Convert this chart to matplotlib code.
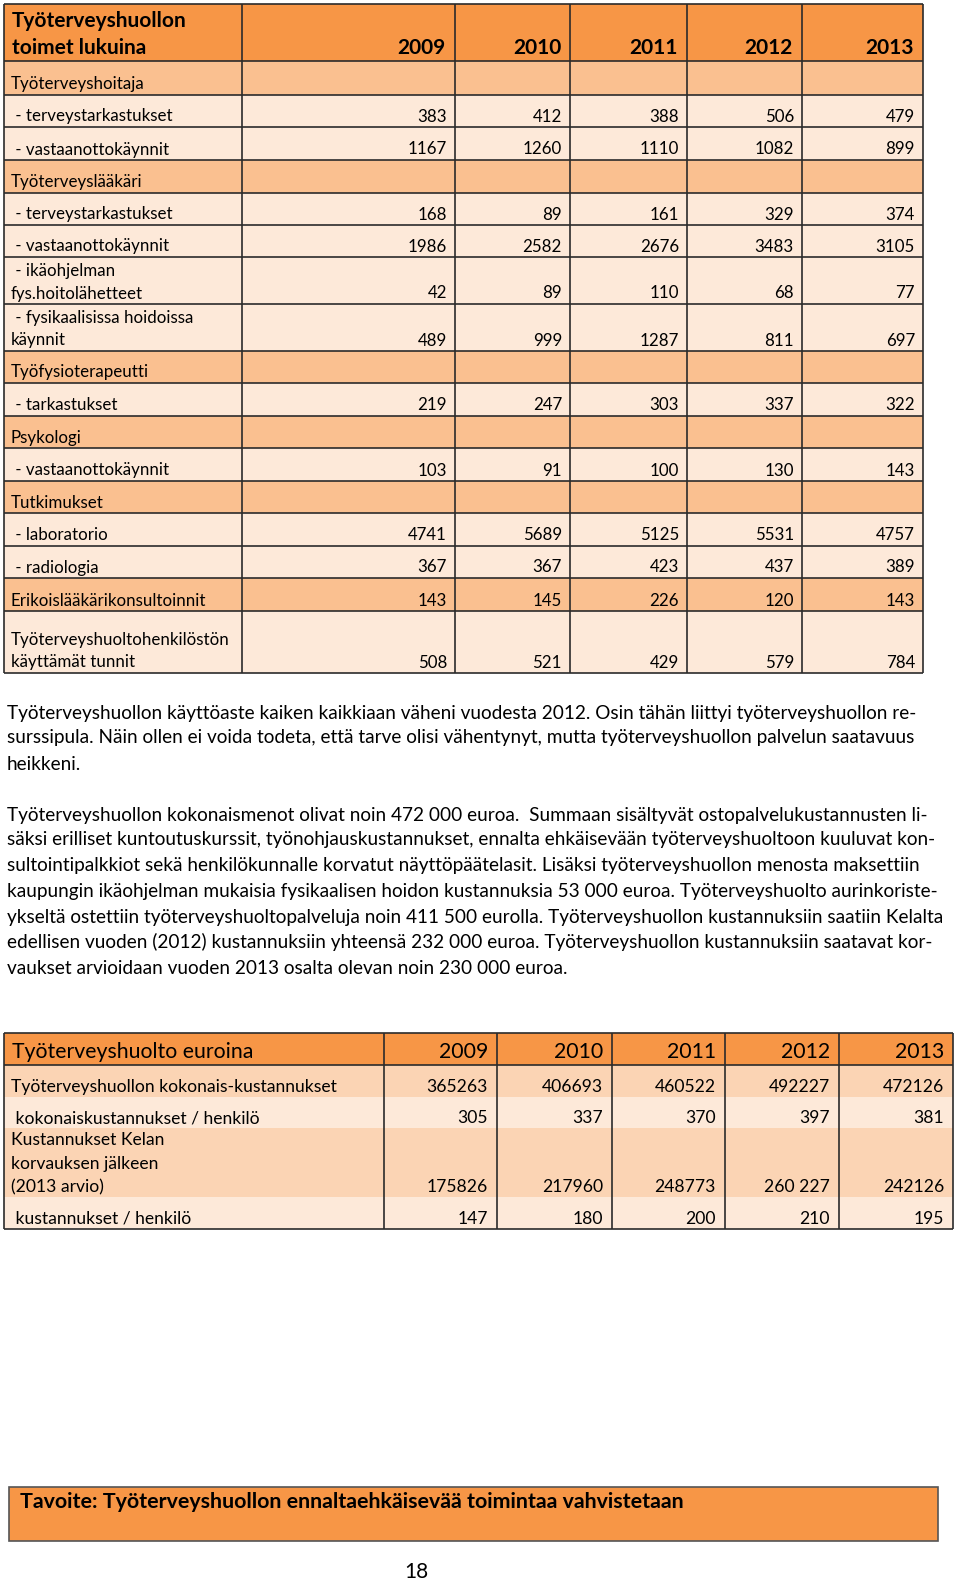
import matplotlib
matplotlib.use("Agg")
import matplotlib.pyplot as plt
from matplotlib import font_manager
from matplotlib.patches import Rectangle

# --- data -------------------------------------------------------------
years = ["2009", "2010", "2011", "2012", "2013"]

t1_title = ["Työterveyshuollon", "toimet lukuina"]
t1_labels = [
    "Työterveyshoitaja",
    " - terveystarkastukset",
    " - vastaanottokäynnit",
    "Työterveyslääkäri",
    " - terveystarkastukset",
    " - vastaanottokäynnit",
    " - ikäohjelman\nfys.hoitolähetteet",
    " - fysikaalisissa hoidoissa\nkäynnit",
    "Työfysioterapeutti",
    " - tarkastukset",
    "Psykologi",
    " - vastaanottokäynnit",
    "Tutkimukset",
    " - laboratorio",
    " - radiologia",
    "Erikoislääkärikonsultoinnit",
    "Työterveyshuoltohenkilöstön\nkäyttämät tunnit",
]
t1_values = [
    None,
    [383, 412, 388, 506, 479],
    [1167, 1260, 1110, 1082, 899],
    None,
    [168, 89, 161, 329, 374],
    [1986, 2582, 2676, 3483, 3105],
    [42, 89, 110, 68, 77],
    [489, 999, 1287, 811, 697],
    None,
    [219, 247, 303, 337, 322],
    None,
    [103, 91, 100, 130, 143],
    None,
    [4741, 5689, 5125, 5531, 4757],
    [367, 367, 423, 437, 389],
    [143, 145, 226, 120, 143],
    [508, 521, 429, 579, 784],
]
# which rows are the darker "group" rows
t1_group = [1, 0, 0, 1, 0, 0, 0, 0, 1, 0, 1, 0, 1, 0, 0, 1, 0]

t2_title = "Työterveyshuolto euroina"
t2_labels = [
    "Työterveyshuollon kokonais-kustannukset",
    " kokonaiskustannukset / henkilö",
    "Kustannukset Kelan\nkorvauksen jälkeen\n(2013 arvio)",
    " kustannukset / henkilö",
]
t2_values = [
    ["365263", "406693", "460522", "492227", "472126"],
    ["305", "337", "370", "397", "381"],
    ["175826", "217960", "248773", "260 227", "242126"],
    ["147", "180", "200", "210", "195"],
]

para1 = [
    "Työterveyshuollon käyttöaste kaiken kaikkiaan väheni vuodesta 2012. Osin tähän liittyi työterveyshuollon re-",
    "surssipula. Näin ollen ei voida todeta, että tarve olisi vähentynyt, mutta työterveyshuollon palvelun saatavuus",
    "heikkeni.",
]
para2 = [
    "Työterveyshuollon kokonaismenot olivat noin 472 000 euroa.  Summaan sisältyvät ostopalvelukustannusten li-",
    "säksi erilliset kuntoutuskurssit, työnohjauskustannukset, ennalta ehkäisevään työterveyshuoltoon kuuluvat kon-",
    "sultointipalkkiot sekä henkilökunnalle korvatut näyttöpäätelasit. Lisäksi työterveyshuollon menosta maksettiin",
    "kaupungin ikäohjelman mukaisia fysikaalisen hoidon kustannuksia 53 000 euroa. Työterveyshuolto aurinkoriste-",
    "ykseltä ostettiin työterveyshuoltopalveluja noin 411 500 eurolla. Työterveyshuollon kustannuksiin saatiin Kelalta",
    "edellisen vuoden (2012) kustannuksiin yhteensä 232 000 euroa. Työterveyshuollon kustannuksiin saatavat kor-",
    "vaukset arvioidaan vuoden 2013 osalta olevan noin 230 000 euroa.",
]
goal = "Tavoite: Työterveyshuollon ennaltaehkäisevää toimintaa vahvistetaan"
page_no = "18"

# --- style ------------------------------------------------------------
ORANGE = "#F79646"
GROUP = "#FAC090"
LIGHT = "#FDE9D9"
MID = "#FBD4B4"
LINE = "#2b2b2b"

names = {f.name for f in font_manager.fontManager.ttflist}
FONT = ["Lato", "DejaVu Sans"]
NARROW = ["Liberation Sans Narrow", "DejaVu Sans"] if "Liberation Sans Narrow" in names else FONT

BODY = 12.2      # table body text
HEAD = 15.0      # bold header of table 1

fig = plt.figure(figsize=(9.6, 15.82), dpi=100)
ax = fig.add_axes([0, 0, 1, 1])
ax.set_xlim(0, 960)
ax.set_ylim(1582, 0)
ax.axis("off")


def txt(x, y, s, size, ha="left", va="baseline", weight="normal", family=FONT):
    return ax.text(x, y, s, fontsize=size, ha=ha, va=va, fontweight=weight,
                   family=family, color="black")


def hline(y, x0, x1, lw=1.2):
    ax.plot([x0, x1], [y, y], color=LINE, lw=lw, solid_capstyle="butt")


def vline(x, y0, y1, lw=1.2):
    ax.plot([x, x], [y0, y1], color=LINE, lw=lw, solid_capstyle="butt")


# --- table 1 ----------------------------------------------------------
t1_y = [4, 61, 95, 127, 160, 193, 225, 257, 304, 351, 383, 416, 448, 481, 513, 546, 578, 611, 673]
t1_x = [4, 242, 455, 570, 687, 802, 923]

ax.add_patch(Rectangle((t1_x[0], t1_y[0]), t1_x[-1] - t1_x[0], t1_y[1] - t1_y[0], color=ORANGE, lw=0))
txt(12, 27, t1_title[0], HEAD, weight="bold")
txt(12, 54, t1_title[1], HEAD, weight="bold")
for j, yr in enumerate(years):
    txt(t1_x[j + 2] - 9, 54, yr, HEAD, ha="right", weight="bold")

for i, (lab, vals) in enumerate(zip(t1_labels, t1_values)):
    top, bot = t1_y[i + 1], t1_y[i + 2]
    ax.add_patch(Rectangle((t1_x[0], top), t1_x[-1] - t1_x[0], bot - top,
                           color=GROUP if t1_group[i] else LIGHT, lw=0))
    lines = lab.split("\n")
    for k, ln in enumerate(lines):
        base = bot - 5.5 - 22.5 * (len(lines) - 1 - k)
        txt(11, base, ln, BODY)
    if vals:
        for j, v in enumerate(vals):
            txt(t1_x[j + 2] - 8, bot - 5.5, str(v), BODY, ha="right")

for y in t1_y:
    hline(y, t1_x[0], t1_x[-1])
for x in t1_x:
    vline(x, t1_y[0], t1_y[-1])

# --- paragraphs -------------------------------------------------------
renderer = fig.canvas.get_renderer()
probe = txt(7, 0, para2[0], 14, family=NARROW)
w = probe.get_window_extent(renderer).width
psize = 14 * 924 / w
probe.remove()

for ln, yc in zip(para1, [713, 738, 764]):
    txt(7, yc, ln, psize, va="center", family=NARROW)
for ln, yc in zip(para2, [815, 840, 865, 891, 917, 942, 968]):
    txt(7, yc, ln, psize, va="center", family=NARROW)

# --- table 2 ----------------------------------------------------------
t2_y = [1033, 1065, 1097, 1128, 1197, 1229]
t2_x = [4, 384, 497, 612, 725, 839, 953]
t2_fill = [MID, LIGHT, MID, LIGHT]

ax.add_patch(Rectangle((t2_x[0], t2_y[0]), t2_x[-1] - t2_x[0], t2_y[1] - t2_y[0], color=ORANGE, lw=0))
txt(12, 1058, t2_title, 15.3)
for j, yr in enumerate(years):
    txt(t2_x[j + 2] - 9, 1058, yr, 15.3, ha="right")

for i, (lab, vals) in enumerate(zip(t2_labels, t2_values)):
    top, bot = t2_y[i + 1], t2_y[i + 2]
    ax.add_patch(Rectangle((t2_x[0], top), t2_x[-1] - t2_x[0], bot - top, color=t2_fill[i], lw=0))
    lines = lab.split("\n")
    for k, ln in enumerate(lines):
        txt(11, bot - 5 - 23.5 * (len(lines) - 1 - k), ln, 12.6)
    for j, v in enumerate(vals):
        txt(t2_x[j + 2] - 9, bot - 5, v, 12.6, ha="right")

for y in [t2_y[0], t2_y[1], t2_y[-1]]:
    hline(y, t2_x[0], t2_x[-1])
for x in t2_x:
    vline(x, t2_y[0], t2_y[-1])

# --- goal box + page number --------------------------------------------
ax.add_patch(Rectangle((9, 1487), 929, 54, facecolor=ORANGE, edgecolor="#555555", lw=1.2))
txt(20, 1502, goal, 15.4, va="center", weight="bold")
txt(416, 1572, page_no, 15, ha="center", va="center", family=NARROW)

fig.savefig("out.png", dpi=100)
